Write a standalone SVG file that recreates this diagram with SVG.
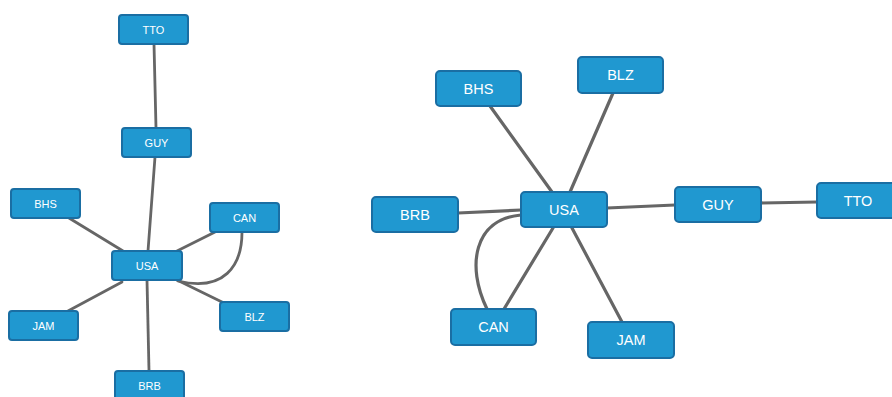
<svg xmlns="http://www.w3.org/2000/svg" width="892" height="397" viewBox="0 0 892 397">
<style>
.n rect{fill:#2098d0;stroke:#1a6ea3;stroke-width:2}
.n text{fill:#fff;font-family:"Liberation Sans",Arial,sans-serif;text-anchor:middle;dominant-baseline:central}
.s text{font-size:11px}
.b text{font-size:14.5px}
.e path{fill:none;stroke:#666;stroke-linecap:round}
.e.s path{stroke-width:2.8}
.e.b path{stroke-width:3.2}
</style>
<rect width="892" height="397" fill="#fff"/>
<g id="connectors-left" class="e s">
<path d="M154,44 L156,128"/>
<path d="M155,157 L148,251"/>
<path d="M69,218 L123,251"/>
<path d="M215,232 L177,251"/>
<path d="M122,282 L68,311"/>
<path d="M177,280 L224,303"/>
<path d="M147,280 L149,371"/>
<path d="M242,232 C242,266 224,292 178,281"/>
</g>
<g id="connectors-right" class="e b">
<path d="M490,106 L552,192"/>
<path d="M613,93 L570,192"/>
<path d="M458,213 L521,210"/>
<path d="M607,208 L675,205"/>
<path d="M761,203 L817,202"/>
<path d="M553,228 L504,309"/>
<path d="M572,228 L622,322"/>
<path d="M521,215 C474,219 466,266 487,309"/>
</g>
<g id="L-TTO" class="n s"><rect x="119" y="15" width="69" height="29" rx="3"/><text x="153.5" y="30">TTO</text></g>
<g id="L-GUY" class="n s"><rect x="122" y="128" width="69" height="29" rx="3"/><text x="156.5" y="143">GUY</text></g>
<g id="L-BHS" class="n s"><rect x="11" y="189" width="69" height="29" rx="3"/><text x="45.5" y="204">BHS</text></g>
<g id="L-CAN" class="n s"><rect x="210" y="203" width="69" height="29" rx="3"/><text x="244.5" y="218">CAN</text></g>
<g id="L-USA" class="n s"><rect x="112" y="251" width="70" height="29" rx="3"/><text x="147" y="266">USA</text></g>
<g id="L-JAM" class="n s"><rect x="9" y="311" width="69" height="29" rx="3"/><text x="43.5" y="326">JAM</text></g>
<g id="L-BLZ" class="n s"><rect x="220" y="302" width="69" height="29" rx="3"/><text x="254.5" y="317">BLZ</text></g>
<g id="L-BRB" class="n s"><rect x="115" y="371" width="69" height="29" rx="3"/><text x="149.5" y="386">BRB</text></g>
<g id="R-BHS" class="n b"><rect x="436" y="71" width="85" height="35" rx="4"/><text x="478.5" y="89">BHS</text></g>
<g id="R-BLZ" class="n b"><rect x="578" y="57" width="85" height="36" rx="4"/><text x="620.5" y="75">BLZ</text></g>
<g id="R-BRB" class="n b"><rect x="372" y="197" width="86" height="35" rx="4"/><text x="415" y="215">BRB</text></g>
<g id="R-USA" class="n b"><rect x="521" y="192" width="86" height="35" rx="4"/><text x="564" y="210">USA</text></g>
<g id="R-GUY" class="n b"><rect x="675" y="187" width="86" height="35" rx="4"/><text x="718" y="205">GUY</text></g>
<g id="R-TTO" class="n b"><rect x="817" y="183" width="86" height="35" rx="4"/><text x="858" y="201">TTO</text></g>
<g id="R-CAN" class="n b"><rect x="451" y="309" width="85" height="36" rx="4"/><text x="493.5" y="327">CAN</text></g>
<g id="R-JAM" class="n b"><rect x="588" y="322" width="86" height="36" rx="4"/><text x="631" y="340">JAM</text></g>
</svg>
